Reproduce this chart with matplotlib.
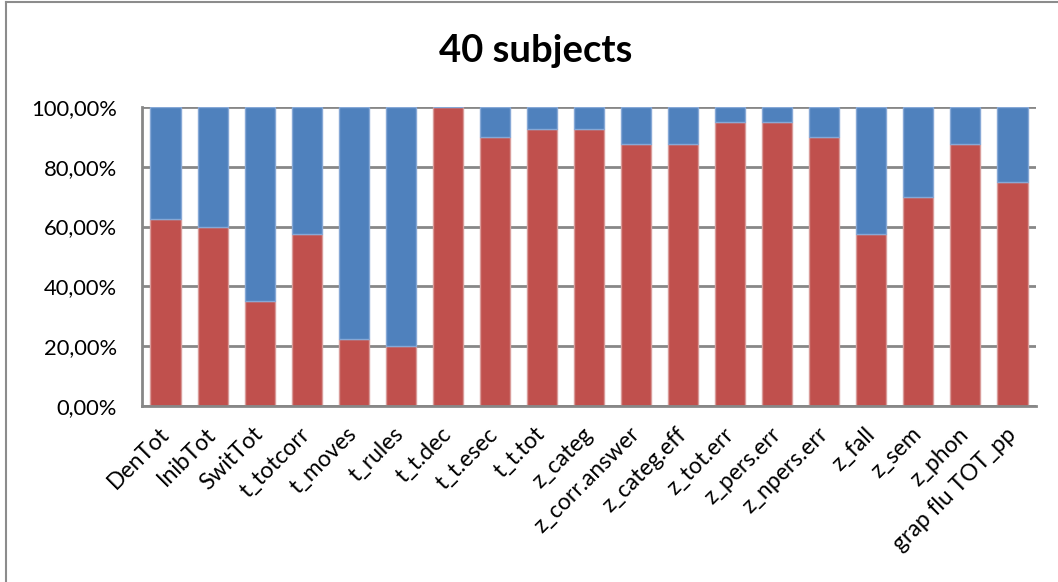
import matplotlib
matplotlib.use("Agg")
import matplotlib.pyplot as plt
from matplotlib.ticker import FuncFormatter
from matplotlib.lines import Line2D

plt.rcParams["font.family"] = ["Lato", "DejaVu Sans"]

# Share of the 40 subjects per measure (red part); the rest is blue
MEASURES = ["DenTot", "InibTot", "SwitTot", "t_totcorr", "t_moves", "t_rules",
            "t_t.dec", "t_t.esec", "t_t.tot", "z_categ", "z_corr.answer",
            "z_categ.eff", "z_tot.err", "z_pers.err", "z_npers.err", "z_fall",
            "z_sem", "z_phon", "grap flu TOT_pp"]
RED_SHARE = [0.625, 0.600, 0.350, 0.575, 0.225, 0.200, 1.000, 0.900, 0.925,
             0.925, 0.875, 0.875, 0.950, 0.950, 0.900, 0.575, 0.700, 0.875,
             0.750]
BLUE_SHARE = [1.0 - v for v in RED_SHARE]
Y_TICKS = [0.0, 0.2, 0.4, 0.6, 0.8, 1.0]

RED, RED_EDGE = "#C0504D", "#D99B99"
BLUE, BLUE_EDGE = "#4F81BD", "#86A8D6"
GRID = "#878787"

fig = plt.figure(figsize=(10.58, 5.82), dpi=100)
fig.patch.set_facecolor("white")
ax = fig.add_axes([0.1342, 0.3024, 0.845, 0.5138])

x = range(len(MEASURES))
ax.bar(x, RED_SHARE, width=0.64, color=RED, edgecolor=RED_EDGE, lw=1.0, zorder=3)
ax.bar(x, BLUE_SHARE, bottom=RED_SHARE, width=0.64, color=BLUE,
       edgecolor=BLUE_EDGE, lw=1.0, zorder=3)

ax.set_xlim(-0.5, len(MEASURES) - 0.5)
ax.set_ylim(0, 1.0)
ax.set_yticks(Y_TICKS)
ax.yaxis.set_major_formatter(
    FuncFormatter(lambda v, _: f"{v * 100:.2f}%".replace(".", ",")))
ax.grid(axis="y", color=GRID, lw=2.0, zorder=1)
ax.set_axisbelow(True)

ax.set_xticks(list(x))
ax.set_xticklabels(MEASURES, rotation=45, ha="right", va="center",
                   rotation_mode="anchor")
ax.tick_params(axis="y", length=0, pad=18, labelsize=15.8, colors="black")
ax.tick_params(axis="x", length=0, pad=18, labelsize=16.5, colors="black")

for side in ("top", "right"):
    ax.spines[side].set_visible(False)
for side in ("left", "bottom"):
    ax.spines[side].set_color(GRID)
    ax.spines[side].set_linewidth(2.0)
    ax.spines[side].set_zorder(4)

fig.text(0.506, 0.912, "40 subjects", ha="center", va="center",
         fontsize=27.5, fontweight="bold")

# Chart-area frame (left and top edges)
fig.add_artist(Line2D([6 / 1058, 6 / 1058], [0, 1 - 2 / 582],
                      color="#8c8c8c", lw=1.5, transform=fig.transFigure))
fig.add_artist(Line2D([6 / 1058, 1], [1 - 2 / 582, 1 - 2 / 582],
                      color="#8c8c8c", lw=1.5, transform=fig.transFigure))

fig.savefig("out.png", dpi=100, facecolor="white")
plt.close(fig)
